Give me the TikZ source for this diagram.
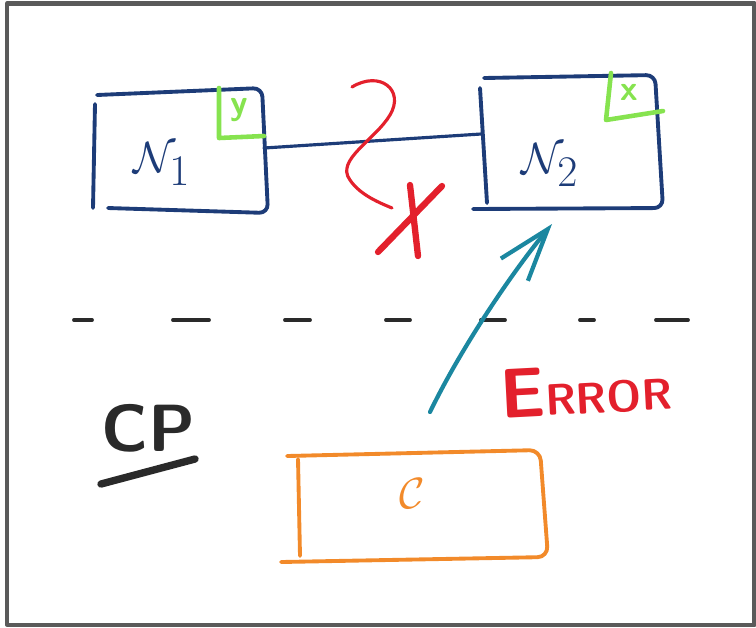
\documentclass[tikz,border=0pt]{standalone}
\usepackage{amsmath}
\usetikzlibrary{arrows.meta}
\definecolor{navy}{HTML}{1D3C78}
\definecolor{teal2}{HTML}{1B87A0}
\definecolor{redpen}{HTML}{E3202C}
\definecolor{greenpen}{HTML}{86E34F}
\definecolor{orangepen}{HTML}{F28A2A}
\definecolor{inkdark}{HTML}{2A2A2A}
\definecolor{framegray}{HTML}{5A5A5A}
\begin{document}
\begin{tikzpicture}[x=0.02cm,y=-0.02cm,line cap=round,line join=round,
    frame/.style={draw=framegray,line width=2.3pt},
    nodebox/.style={navy,line width=2.2pt,rounded corners=5},
    tagcorner/.style={greenpen,line width=2.6pt},
    taglbl/.style={greenpen,font=\sffamily\bfseries\fontsize{20}{22}\selectfont},
    nodelbl/.style={navy,font=\fontsize{38}{40}\selectfont},
    squiggle/.style={redpen,line width=1.8pt},
    cut/.style={redpen,line width=3.6pt}]
  \useasboundingbox (0,0) rectangle (756,627);
  \draw[frame] (7,3.5) -- (754.5,3.5) -- (754.5,624.5) -- (7,624.5) -- cycle;
  \draw[nodebox] (97,95) -- (262,88) -- (268,213) -- (108,208);
  \draw[nodebox] (95,104) -- (93,208);
  \draw[tagcorner] (219,88) -- (219,138) -- (264,136);
  \draw (239,110) node[taglbl]{y};
  \draw (162,164) node[nodelbl] (n1) {$\mathcal{N}_1$};
  \draw[nodebox] (484,78) -- (655,75) -- (663,208) -- (473,209);
  \draw[nodebox] (480,88) -- (487,203);
  \draw[tagcorner] (611,73) -- (606,120) -- (663,111);
  \draw (629,92) node[taglbl]{x};
  \draw (550,165) node[nodelbl] (n2) {$\mathcal{N}_2$};
  \coordinate (n1r) at (264,148);
  \coordinate (n2l) at (481,134);
  \draw[navy,line width=1.8pt] (n1r) -- (n2l);
  \draw[squiggle] (352,87) .. controls (380,70) and (405,90) .. (390,115)
    .. controls (375,140) and (335,160) .. (350,180)
    .. controls (360,195) and (380,203) .. (392,208);
  \draw[cut] (378,252) -- (442,186);
  \draw[cut] (410,185) -- (418,256);
  \foreach \a/\b in {74/92,173/209,285/310,386/410,481/505,580/594,656/688}
    \draw[inkdark,line width=2.2pt] (\a,320) -- (\b,320);
  \coordinate (errfrom) at (430,412);
  \coordinate (errto) at (552,224);
  \draw[teal2,line width=2.4pt,-{Straight Barb[length=1.05cm,width=0.7cm]}]
    (errfrom) .. controls (460,350) and (510,275) .. (errto);
  \draw (586,390) node[redpen,rotate=3,font=\sffamily\bfseries] (errlbl)
    {\fontsize{40}{42}\selectfont E\fontsize{25}{27}\selectfont RROR};
  \draw (148,428) node[inkdark,font=\sffamily\bfseries\fontsize{38}{40}\selectfont] (cp) {CP};
  \draw[inkdark,line width=4.2pt] (101,484) -- (195,459);
  \draw[orangepen,line width=2.2pt,rounded corners=6] (287,456) -- (540,450) -- (548,557) -- (281,562);
  \draw[orangepen,line width=2.2pt] (298,459) -- (300,556);
  \draw (412,494) node[orangepen,font=\fontsize{42}{44}\selectfont] (cl) {$\mathcal{C}$};
\end{tikzpicture}
\end{document}
